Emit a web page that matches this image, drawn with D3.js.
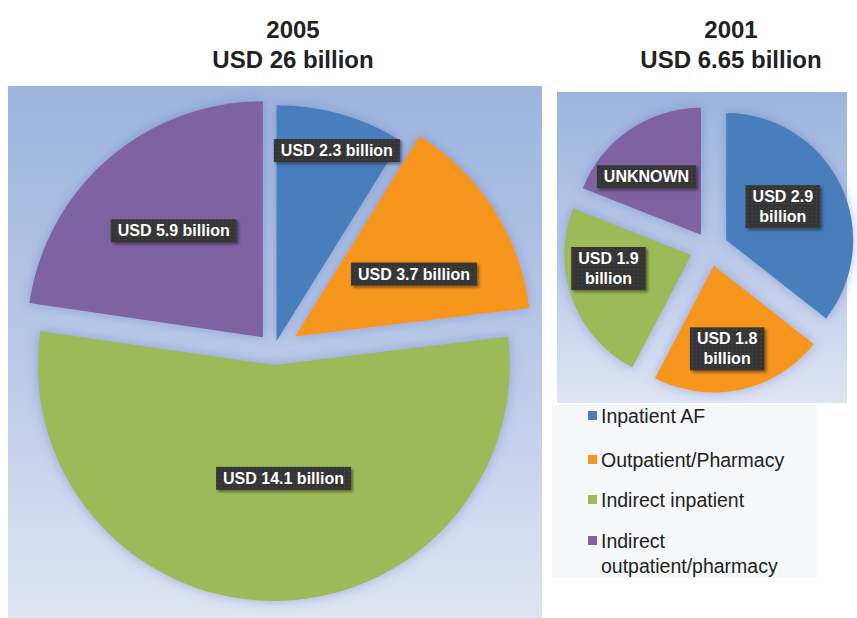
<!DOCTYPE html>
<html><head><meta charset="utf-8">
<script src="https://cdn.jsdelivr.net/npm/d3@7"></script>
<style>html,body{margin:0;padding:0;background:#fff;}svg{display:block;}</style>
</head><body>
<svg id="chart" width="857" height="618"></svg>
<script>
// ---- data ----
const categories = ["Inpatient AF", "Outpatient/Pharmacy", "Indirect inpatient", "Indirect outpatient/pharmacy"];
const legendLines = [["Inpatient AF"], ["Outpatient/Pharmacy"], ["Indirect inpatient"], ["Indirect", "outpatient/pharmacy"]];
const values2005 = [2.3, 3.7, 14.1, 5.9];
const labels2005 = [["USD 2.3 billion"], ["USD 3.7 billion"], ["USD 14.1 billion"], ["USD 5.9 billion"]];
const values2001 = [2.9, 1.8, 1.9, 1.55]; // last slice is "UNKNOWN", size estimated from picture
const labels2001 = [["USD 2.9", "billion"], ["USD 1.8", "billion"], ["USD 1.9", "billion"], ["UNKNOWN"]];
const title2005 = ["2005", "USD 26 billion"];
const title2001 = ["2001", "USD 6.65 billion"];

// ---- styles ----
const colors = ["#4a7ebc", "#f7961e", "#9bbb59", "#7f62a1"];

const svg = d3.select("#chart");
const defs = svg.append("defs");

function bgGrad(id) {
  const g = defs.append("linearGradient").attr("id", id).attr("x1", 0).attr("y1", 0).attr("x2", 0).attr("y2", 1);
  g.append("stop").attr("offset", "0%").attr("stop-color", "#9db4de");
  g.append("stop").attr("offset", "55%").attr("stop-color", "#bccbe8");
  g.append("stop").attr("offset", "100%").attr("stop-color", "#dfe4f3");
}
bgGrad("bgL"); bgGrad("bgR");

const glow = defs.append("filter").attr("id", "glow").attr("x", "-20%").attr("y", "-20%").attr("width", "140%").attr("height", "140%");
glow.append("feGaussianBlur").attr("in", "SourceAlpha").attr("stdDeviation", 6).attr("result", "b");
glow.append("feFlood").attr("flood-color", "#5a6fc0").attr("flood-opacity", 0.45).attr("result", "c");
glow.append("feComposite").attr("in", "c").attr("in2", "b").attr("operator", "in").attr("result", "s");
const gm = glow.append("feMerge");
gm.append("feMergeNode").attr("in", "s");
gm.append("feMergeNode").attr("in", "SourceGraphic");

const boxShadow = defs.append("filter").attr("id", "bs").attr("x", "-20%").attr("y", "-30%").attr("width", "150%").attr("height", "170%");
boxShadow.append("feDropShadow").attr("dx", 2).attr("dy", 2).attr("stdDeviation", 1.5).attr("flood-color", "#000").attr("flood-opacity", 0.45);

const pat = defs.append("pattern").attr("id", "dots").attr("width", 4).attr("height", 4).attr("patternUnits", "userSpaceOnUse");
pat.append("rect").attr("width", 4).attr("height", 4).attr("fill", "#363636");
pat.append("rect").attr("x", 1).attr("y", 1).attr("width", 1).attr("height", 1).attr("fill", "#4e4e4e");

// panels
svg.append("rect").attr("x", 8).attr("y", 86).attr("width", 534).attr("height", 532).attr("fill", "url(#bgL)");
svg.append("rect").attr("x", 557).attr("y", 92).attr("width", 290).attr("height", 311).attr("fill", "url(#bgR)");
svg.append("rect").attr("x", 552).attr("y", 405).attr("width", 265).attr("height", 173).attr("fill", "#f5f7f9");

// titles
function titles(t, cx) {
  svg.append("text").attr("x", cx).attr("y", 38).attr("text-anchor", "middle")
    .attr("font-family", "Liberation Sans, Arial, sans-serif").attr("font-weight", "bold").attr("font-size", 24)
    .attr("fill", "#222").text(t[0]);
  svg.append("text").attr("x", cx).attr("y", 68).attr("text-anchor", "middle")
    .attr("font-family", "Liberation Sans, Arial, sans-serif").attr("font-weight", "bold").attr("font-size", 24)
    .attr("fill", "#222").text(t[1]);
}
titles(title2005, 293);
titles(title2001, 731);

function drawPie(values, labels, opt) {
  const pie = d3.pie().sort(null).startAngle(0).endAngle(2 * Math.PI);
  const arcs = pie(values);
  const arc = d3.arc().innerRadius(0).outerRadius(opt.r);
  const g = svg.append("g").attr("transform", `translate(${opt.cx},${opt.cy})`);
  const sl = g.selectAll("g.slice").data(arcs).join("g").attr("class", "slice")
    .attr("transform", (d, i) => {
      const m = (d.startAngle + d.endAngle) / 2;
      const e = opt.explode[i];
      return `translate(${e * Math.sin(m)},${-e * Math.cos(m)})`;
    });
  sl.append("path").attr("d", arc).attr("fill", (d, i) => colors[i]).attr("filter", "url(#glow)");
  // labels
  sl.each(function (d, i) {
    const m = (d.startAngle + d.endAngle) / 2 + opt.labOff[i] * Math.PI / 180;
    const rr = opt.labR[i] * opt.r;
    const x = rr * Math.sin(m), y = -rr * Math.cos(m);
    const lines = labels[i];
    const lh = 20;
    const lg = d3.select(this).append("g").attr("transform", `translate(${x},${y})`);
    const rect = lg.append("rect").attr("fill", "url(#dots)").attr("filter", "url(#bs)");
    const t = lg.append("text").attr("text-anchor", "middle")
      .attr("font-family", "Liberation Sans, Arial, sans-serif").attr("font-weight", "bold")
      .attr("font-size", 16).attr("fill", "#fff");
    lines.forEach((ln, k) => {
      t.append("tspan").attr("x", 0).attr("y", (k - (lines.length - 1) / 2) * lh + 6).text(ln);
    });
    const bb = t.node().getBBox();
    rect.attr("x", bb.x - 7).attr("y", bb.y - 3).attr("width", bb.width + 14).attr("height", bb.height + 6);
  });
}

drawPie(values2005, labels2005, {
  cx: 274, cy: 350, r: 236,
  explode: [9, 25, 15, 17],
  labR: [0.85, 0.57, 0.48, 0.59],
  labOff: [1.6, 4.6, -5.6, 1]
});

drawPie(values2001, labels2001, {
  cx: 710, cy: 248, r: 127,
  explode: [18, 18, 20, 16],
  labR: [0.52, 0.66, 0.66, 0.63],
  labOff: [-5, 3, 11.5, -8.7]
});

// legend
const lgY = [423, 467, 507, 548];
const lg = svg.append("g");
categories.forEach((c, i) => {
  lg.append("rect").attr("x", 588).attr("y", lgY[i] - 12).attr("width", 9).attr("height", 9).attr("fill", colors[i]);
  const t = lg.append("text").attr("font-family", "Liberation Sans, Arial, sans-serif").attr("font-size", 19.5).attr("fill", "#222");
  legendLines[i].forEach((ln, k) => {
    t.append("tspan").attr("x", 601).attr("y", lgY[i] + k * 25).text(ln);
  });
});
</script>
</body></html>
